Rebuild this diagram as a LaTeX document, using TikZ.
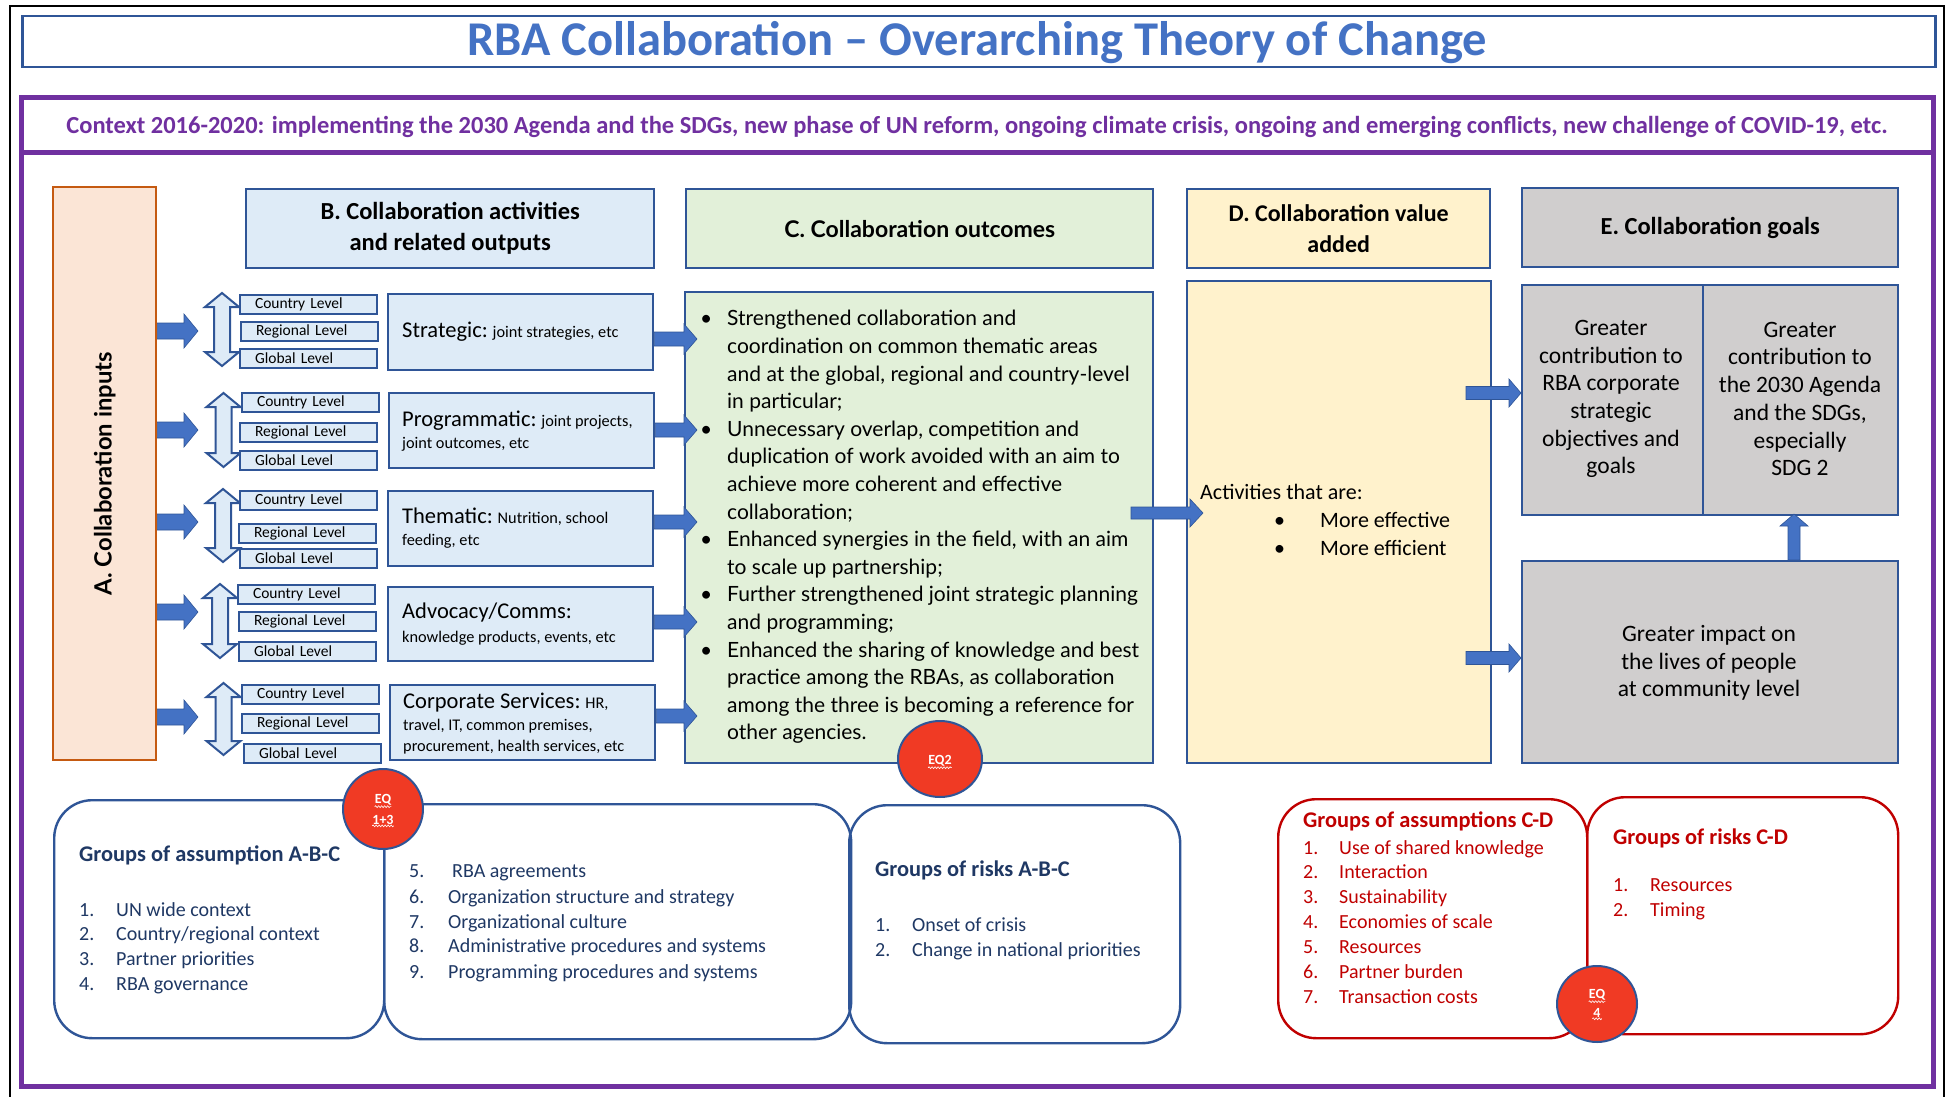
\documentclass[tikz,border=0pt]{standalone}
\usepackage{fontspec}
\setmainfont{Carlito}
\newfontfamily\latofont{Lato}
\usetikzlibrary{calc,decorations.pathmorphing,shapes.geometric}
\definecolor{bord}{HTML}{2F5597}
\definecolor{ablue}{HTML}{4472C4}
\definecolor{purp}{HTML}{7030A0}
\definecolor{peach}{HTML}{FBE5D6}
\definecolor{peachb}{HTML}{C55A11}
\definecolor{lblue}{HTML}{DEEBF7}
\definecolor{lgreen}{HTML}{E2F0D9}
\definecolor{lyel}{HTML}{FFF2CC}
\definecolor{lgray}{HTML}{D0CECE}
\definecolor{navy}{HTML}{1F3864}
\definecolor{dred}{HTML}{C00000}
\definecolor{eqred}{HTML}{F03A24}
\newcommand\fsz[2]{\fontsize{#1}{#2}\selectfont}
% right-pointing block arrow: start, tip, shaft half, head half, head length
\newcommand\rarr[5]{\path[fill=ablue,draw=bord,line width=0.6pt] let \p1=(#1), \p2=(#2) in
  (\x1,\y2+#3pt) -- (\x2-#5pt,\y2+#3pt) -- (\x2-#5pt,\y2+#4pt) -- (\x2,\y2) --
  (\x2-#5pt,\y2-#4pt) -- (\x2-#5pt,\y2-#3pt) -- (\x1,\y2-#3pt) -- cycle;}
% up-pointing block arrow: start, tip, shaft half, head half, head length
\newcommand\uarr[5]{\path[fill=ablue,draw=bord,line width=0.6pt] let \p1=(#1), \p2=(#2) in
  (\x2-#3pt,\y1) -- (\x2-#3pt,\y2-#5pt) -- (\x2-#4pt,\y2-#5pt) -- (\x2,\y2) --
  (\x2+#4pt,\y2-#5pt) -- (\x2+#3pt,\y2-#5pt) -- (\x2+#3pt,\y1) -- cycle;}
% vertical double arrow: cx, top, bottom
\newcommand\udarr[3]{\path[fill=lblue,draw=bord,line width=2pt]
  ({#1},{#2}) -- ({#1+17},{#2+14}) -- ({#1+8},{#2+14}) -- ({#1+8},{#3-14}) -- ({#1+17},{#3-14}) --
  ({#1},{#3}) -- ({#1-17},{#3-14}) -- ({#1-8},{#3-14}) -- ({#1-8},{#2+14}) -- ({#1-17},{#2+14}) -- cycle;}
\tikzset{
  box/.style={draw=bord,line width=2.4pt,inner sep=0pt,anchor=north west},
  lvl/.style={draw=bord,fill=lblue,line width=2pt,anchor=north west,minimum width=137pt,
    minimum height=19pt,text width=107pt,inner xsep=15pt,inner ysep=0pt,align=left,
    font=\fsz{15.5}{18}},
  rowbox/.style={box,fill=lblue},
  rowtxt/.style={anchor=mid west,inner sep=0pt,yshift=-3.5pt,font=\fsz{16.3}{19}},
  big/.style={},
  hdr/.style={box,align=center,font=\bfseries\fsz{24.5}{31}},
  gtxt/.style={align=center,font=\fsz{23.5}{27.7}},
  ctxt/.style={anchor=mid west,inner sep=0pt,yshift=-4.5pt,font=\latofont\fsz{21}{25}},
  dtxt/.style={anchor=mid west,inner sep=0pt,yshift=-4.5pt,font=\fsz{22}{26}},
  btxt/.style={anchor=mid west,inner sep=0pt,yshift=-4.5pt,font=\fsz{20}{24}},
  bhead/.style={anchor=mid west,inner sep=0pt,yshift=-4.5pt,font=\bfseries\fsz{22.4}{26}},
  rbox/.style={draw=bord,line width=2.4pt,rounded corners=38pt,inner sep=0pt,anchor=north west},
  eq/.style={circle,fill=eqred,draw=bord,line width=2pt,minimum size=80pt,inner sep=0pt},
  eqt/.style={text=white,font=\bfseries\fsz{14}{16},inner sep=0pt},
  wav/.style={draw=white,line width=0.6pt,decorate,decoration={snake,amplitude=0.9pt,segment length=3pt}}
}
\newcommand\bigt[1]{{\fsz{22.5}{26}#1}}
\begin{document}
\begin{tikzpicture}[x=1pt,y=-1pt]
\useasboundingbox (0,0) rectangle (1949,1097);
\fill[white] (0,0) rectangle (1949,1097);
% outer frames
\draw[black,line width=2pt] (10,1097) -- (10,6) -- (1944,6) -- (1944,1097);
\node[box,line width=2.5pt,minimum width=1913pt,minimum height=51pt] (title) at (21,15) {};
\node[text=ablue,font=\bfseries\fsz{48.5}{54}] (titletxt) at (977,43) {RBA Collaboration – Overarching Theory of Change};
\draw[purp,line width=5pt] (21,98) rectangle (1933,1086);
\draw[purp,line width=5pt] (21,153) -- (1933,153);
\node[text=purp,font=\bfseries\fsz{24.5}{28}] (context) at (977,127) {Context 2016-2020: implementing the 2030 Agenda and the SDGs, new phase of UN reform, ongoing climate crisis, ongoing and emerging conflicts, new challenge of COVID-19, etc.};
% A
\node[box,draw=peachb,fill=peach,minimum width=103pt,minimum height=573pt] (A) at (52,186) {};
\node[rotate=90,font=\latofont\bfseries\fsz{23.8}{28}] (Atxt) at (A.center) {A. Collaboration inputs};
% headers
\node[hdr,fill=lblue,minimum width=408pt,minimum height=79pt] (Bh) at (245,188) {B. Collaboration activities\\and related outputs};
\node[hdr,fill=lgreen,minimum width=467pt,minimum height=79pt,font=\latofont\bfseries\fsz{23}{27}] (Ch) at (685,188) {C. Collaboration outcomes};
\node[hdr,fill=lyel,minimum width=303pt,minimum height=79pt,font=\bfseries\fsz{24}{31}] (Dh) at (1186,188) {D. Collaboration value\\added};
\node[hdr,fill=lgray,minimum width=376pt,minimum height=79pt] (Eh) at (1521,187) {E. Collaboration goals};
% rows: double arrows, level boxes, activity boxes
\udarr{222}{293}{366}
\udarr{223.5}{393}{467}
\udarr{223}{489}{562}
\udarr{220}{584}{658}
\udarr{223.5}{683}{755}
\node[lvl] (c1) at (239,294) {Country Level};
\node[lvl] (g1r) at (240,321) {Regional Level};
\node[lvl] (gl1) at (239,348) {Global Level};
\node[lvl] (c2) at (241,392) {Country Level};
\node[lvl] (g2r) at (239,422) {Regional Level};
\node[lvl] (gl2) at (239,450) {Global Level};
\node[lvl] (c3) at (239,490) {Country Level};
\node[lvl] (g3r) at (238,523) {Regional Level};
\node[lvl] (gl3) at (239,548) {Global Level};
\node[lvl] (c4) at (237,584) {Country Level};
\node[lvl] (g4r) at (238,611) {Regional Level};
\node[lvl] (gl4) at (238,641) {Global Level};
\node[lvl] (c5) at (241,684) {Country Level};
\node[lvl] (g5r) at (241,713) {Regional Level};
\node[lvl] (gl5) at (243,743) {Global Level};
\node[rowbox,minimum width=265pt,minimum height=76pt] (r1) at (387,293) {};
\node[rowbox,minimum width=265pt,minimum height=75pt] (r2) at (388,392) {};
\node[rowbox,minimum width=265pt,minimum height=75pt] (r3) at (387,490) {};
\node[rowbox,minimum width=265pt,minimum height=74pt] (r4) at (387,586) {};
\node[rowbox,minimum width=265pt,minimum height=75pt] (r5) at (389,684) {};
\node[rowtxt] (r1a) at (402,332) {\bigt{Strategic:} joint strategies, etc};
\node[rowtxt] (r2a) at (402,421) {\bigt{Programmatic:} joint projects,};
\node[rowtxt] (r2b) at (402,443) {joint outcomes, etc};
\node[rowtxt] (r3a) at (402,518) {\bigt{Thematic:} Nutrition, school};
\node[rowtxt] (r3b) at (402,540) {feeding, etc};
\node[rowtxt] (r4a) at (402,613) {\bigt{Advocacy/Comms:}};
\node[rowtxt] (r4b) at (402,637) {knowledge products, events, etc};
\node[rowtxt] (r5a) at (403,703) {\bigt{Corporate Services:} HR,};
\node[rowtxt] (r5b) at (403,725) {travel, IT, common premises,};
\node[rowtxt] (r5c) at (403,746) {procurement, health services, etc};
% C outcomes
\node[box,fill=lgreen,minimum width=468pt,minimum height=471pt] (C) at (684,291) {};
\foreach \t [count=\i from 0] in {{Strengthened collaboration and},{coordination on common thematic areas},{and at the global, regional and country-level},{in particular;},{Unnecessary overlap, competition and},{duplication of work avoided with an aim to},{achieve more coherent and effective},{collaboration;},{Enhanced synergies in the field, with an aim},{to scale up partnership;},{Further strengthened joint strategic planning},{and programming;},{Enhanced the sharing of knowledge and best},{practice among the RBAs, as collaboration},{among the three is becoming a reference for},{other agencies.}}
  \node[ctxt] (cl\i) at (727,{319+27.6*\i}) {\t};
\foreach \i in {0,4,8,10,12}
  \node[ctxt] (cb\i) at (700,{319+27.6*\i}) {•};
% D value added
\node[box,fill=lyel,minimum width=304pt,minimum height=482pt] (D) at (1186,280) {};
\node[dtxt] (Dt) at (1200,493) {Activities that are:};
\node[dtxt] (Db1) at (1274,521) {•};
\node[dtxt] (Db2) at (1274,549) {•};
\node[dtxt] (Dt1) at (1320,521) {More effective};
\node[dtxt] (Dt2) at (1320,549) {More efficient};
% E goals
\node[box,fill=lgray,minimum width=181pt,minimum height=230pt] (E1) at (1521,284) {};
\node[box,fill=lgray,minimum width=195pt,minimum height=230pt] (E2) at (1702,284) {};
\node[box,fill=lgray,minimum width=376pt,minimum height=202pt] (E3) at (1521,560) {};
\node[gtxt] (E1t) at (1611,399) {Greater\\contribution to\\RBA corporate\\strategic\\objectives and\\goals};
\node[gtxt] (E2t) at (1800,399) {Greater\\contribution to\\the 2030 Agenda\\and the SDGs,\\especially\\SDG 2};
\node[gtxt] (E3t) at (1709,663) {Greater impact on\\the lives of people\\at community level};
% arrows
\foreach \y [count=\k] in {331,430,522,612,717}
  \coordinate (ae\k) at (198,\y);
\foreach \k in {1,...,5} {\rarr{A.east|-ae\k}{ae\k}{8}{17}{14}}
\coordinate (bc1) at (697,339);
\coordinate (bc2) at (697,430);
\coordinate (bc3) at (697,522);
\coordinate (bc4) at (697,622);
\coordinate (bc5) at (697,716);
\rarr{r1.east|-bc1}{bc1}{7}{15}{13}
\rarr{r2.east|-bc2}{bc2}{7}{15}{13}
\rarr{r3.east|-bc3}{bc3}{7}{15}{13}
\rarr{r4.east|-bc4}{bc4}{7}{15}{13}
\rarr{r5.east|-bc5}{bc5}{7}{15}{13}
\coordinate (cd0) at (1131,513);
\coordinate (cd1) at (1203,513);
\rarr{cd0}{cd1}{6}{14}{13}
\coordinate (de0) at (1466,393);
\coordinate (de1) at (1521,393);
\coordinate (de2) at (1466,658);
\coordinate (de3) at (1521,658);
\rarr{de0}{de1}{6.5}{14}{12}
\rarr{de2}{de3}{6.5}{14}{12}
\coordinate (eu) at (1794,514);
\uarr{E3.north-|eu}{eu}{6}{14}{12}
% bottom boxes
\node[rbox,minimum width=330pt,minimum height=238pt] (b1) at (53,799) {};
\node[rbox,minimum width=467pt,minimum height=235pt] (b2) at (383,803) {};
\node[rbox,minimum width=331pt,minimum height=238pt] (b3) at (848,804) {};
\node[rbox,draw=dred,minimum width=309pt,minimum height=239pt] (b4) at (1277,798) {};
\node[rbox,draw=dred,minimum width=311pt,minimum height=237pt] (b5) at (1586,796) {};
\begin{scope}[text=navy]
\node[bhead] (h1) at (79,855) {Groups of assumption A-B-C};
\foreach \n/\t/\y in {1/UN wide context/910,2/Country\slash regional context/934,3/Partner priorities/959,4/RBA governance/984}{
  \node[btxt] (n1\n) at (79,\y) {\n.};
  \node[btxt] (t1\n) at (116,\y) {\t};}
\node[btxt] (n25) at (409,871) {5.};
\node[btxt] (t25) at (452,871) {RBA agreements};
\foreach \n/\t/\y in {6/Organization structure and strategy/897,7/Organizational culture/922,8/Administrative procedures and systems/946,9/Programming procedures and systems/972}{
  \node[btxt] (n2\n) at (409,\y) {\n.};
  \node[btxt] (t2\n) at (448,\y) {\t};}
\node[bhead] (h3) at (875,870) {Groups of risks A-B-C};
\node[btxt] (n31) at (875,925) {1.};
\node[btxt] (t31) at (912,925) {Onset of crisis};
\node[btxt] (n32) at (875,950) {2.};
\node[btxt] (t32) at (912,950) {Change in national priorities};
\end{scope}
\begin{scope}[text=dred]
\node[bhead] (h4) at (1303,821) {Groups of assumptions C-D};
\foreach \n/\t/\y in {1/Use of shared knowledge/848,2/Interaction/872,3/Sustainability/897,4/Economies of scale/922,5/Resources/947,6/Partner burden/972,7/Transaction costs/997}{
  \node[btxt] (n4\n) at (1303,\y) {\n.};
  \node[btxt] (t4\n) at (1339,\y) {\t};}
\node[bhead] (h5) at (1613,838) {Groups of risks C-D};
\node[btxt] (n51) at (1613,885) {1.};
\node[btxt] (t51) at (1650,885) {Resources};
\node[btxt] (n52) at (1613,910) {2.};
\node[btxt] (t52) at (1650,910) {Timing};
\end{scope}
% EQ circles
\node[eq] (eq13) at (383,809) {};
\node[eqt] (eq13a) at (383,800) {EQ};
\node[eqt] (eq13b) at (383,820) {1+3};
\draw[wav] ($(eq13a.south west)+(0,1)$) -- ($(eq13a.south east)+(0,1)$);
\draw[wav] ($(eq13b.south west)+(0,1)$) -- ($(eq13b.south east)+(0,1)$);
\node[eq,ellipse,minimum width=84pt,minimum height=76pt] (eq2) at (940,759) {};
\node[eqt] (eq2a) at (940,761) {EQ2};
\draw[wav] ($(eq2a.south west)+(0,1)$) -- ($(eq2a.south east)+(0,1)$);
\node[eq,ellipse,minimum width=80pt,minimum height=76pt] (eq4) at (1597,1004) {};
\node[eqt] (eq4a) at (1597,995) {EQ};
\node[eqt] (eq4b) at (1597,1013) {4};
\draw[wav] ($(eq4a.south west)+(0,1)$) -- ($(eq4a.south east)+(0,1)$);
\draw[wav] ($(eq4b.south west)+(-1,1)$) -- ($(eq4b.south east)+(1,1)$);
\end{tikzpicture}
\end{document}
